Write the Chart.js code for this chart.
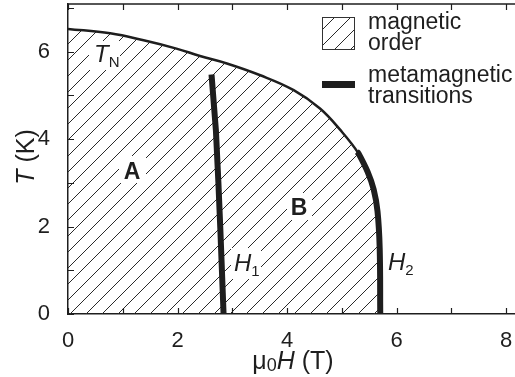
<!DOCTYPE html>
<html>
<head>
<meta charset="utf-8">
<script src="https://cdn.jsdelivr.net/npm/chart.js@4.4.1/dist/chart.umd.min.js"></script>
<style>
  html, body { margin: 0; padding: 0; background: #fff; }
  #wrap { width: 515px; height: 377px; }
</style>
</head>
<body>
<div id="wrap"><canvas id="phaseChart" width="515" height="377"></canvas></div>
<script>
// T_N(H) phase boundary (H in T, T in K)
let boundaryH = [0, 0.77, 1.38, 1.98, 2.41, 2.90, 3.51, 4.12, 4.60, 4.97, 5.30, 5.47, 5.58, 5.65, 5.69, 5.70];
let boundaryT = [6.52, 6.42, 6.26, 6.07, 5.90, 5.73, 5.46, 5.12, 4.70, 4.21, 3.68, 3.25, 2.85, 2.35, 1.50, 0];

// metamagnetic transitions
let h1H = [2.62, 2.70, 2.745, 2.78, 2.84];
let h1T = [5.48, 4.20, 3.02, 1.97, 0];
let h2H = [5.27, 5.30, 5.47, 5.58, 5.65, 5.69, 5.70];
let h2T = [3.71, 3.68, 3.25, 2.85, 2.35, 1.50, 0];

let xTicks = [0, 1, 2, 3, 4, 5, 6, 7, 8];
let xTickLabels = ['0', '', '2', '', '4', '', '6', '', '8'];
let yTicks = [0, 1, 2, 3, 4, 5, 6, 7];
let yTickLabels = ['0', '', '2', '', '4', '', '6', ''];

let ink = '#1e1e1e';
let fam = '"Liberation Sans", Arial, Helvetica, sans-serif';

function pts(xs, ys) {
    return xs.map((x, i) => ({x: x, y: ys[i]}));
}

// diagonal hatch
let tile = document.createElement('canvas');
tile.width = 16;
tile.height = 16;
let tctx = tile.getContext('2d');
tctx.strokeStyle = '#2a2a2a';
tctx.lineWidth = 1;
tctx.beginPath();
tctx.moveTo(-1, 17); tctx.lineTo(17, -1);
tctx.moveTo(-2, 2); tctx.lineTo(2, -2);
tctx.moveTo(14, 18); tctx.lineTo(18, 14);
tctx.stroke();
let hatch = tctx.createPattern(tile, 'repeat');

function runs(ctx, parts, x, y, align) {
    let w = 0;
    parts.forEach(p => { ctx.font = p.font; w += ctx.measureText(p.text).width; });
    let cx = align === 'center' ? x - w / 2 : x;
    ctx.textAlign = 'left';
    ctx.textBaseline = 'alphabetic';
    parts.forEach(p => {
        ctx.font = p.font;
        ctx.fillText(p.text, cx, y + (p.dy || 0));
        cx += ctx.measureText(p.text).width;
    });
}

function fixSize(w, h) {
    return function(s) {
        if (w) s.width = w;
        if (h) s.height = h;
        s.paddingTop = s.paddingBottom = s.paddingLeft = s.paddingRight = 0;
    };
}

let decor = {
    id: 'decor',
    afterDatasetsDraw(chart) {
        let ctx = chart.ctx;
        ctx.save();
        // white boxes behind labels inside the hatch
        ctx.fillStyle = '#fff';
        ctx.fillRect(89, 41, 31, 29);
        ctx.fillRect(119, 156, 27, 27);
        ctx.fillRect(287, 193, 25, 27);
        ctx.fillRect(231, 248, 30, 31);
        ctx.fillStyle = ink;
        let it = 'italic 24px ' + fam;
        let sub = '15px ' + fam;
        runs(ctx, [{text: 'T', font: it}, {text: 'N', font: sub, dy: 5}], 94, 62, 'left');
        runs(ctx, [{text: 'A', font: 'bold 23px ' + fam}], 132, 179, 'center');
        runs(ctx, [{text: 'B', font: 'bold 23px ' + fam}], 299, 215, 'center');
        runs(ctx, [{text: 'H', font: it}, {text: '1', font: sub, dy: 5}], 234, 271, 'left');
        runs(ctx, [{text: 'H', font: it}, {text: '2', font: sub, dy: 5}], 388, 270, 'left');
        ctx.restore();
    },
    afterDraw(chart) {
        let ctx = chart.ctx;
        let a = chart.chartArea;
        let xs = chart.scales.x;
        let ys = chart.scales.y;
        ctx.save();
        ctx.strokeStyle = ink;
        ctx.lineWidth = 1.5;
        // top frame
        ctx.beginPath();
        ctx.moveTo(a.left, a.top);
        ctx.lineTo(a.right, a.top);
        ctx.stroke();
        // inward ticks
        ctx.lineWidth = 1.2;
        ctx.beginPath();
        xTicks.forEach(v => {
            let p = Math.round(xs.getPixelForValue(v)) + 0.5;
            ctx.moveTo(p, a.bottom); ctx.lineTo(p, a.bottom - 6);
            ctx.moveTo(p, a.top); ctx.lineTo(p, a.top + 6);
        });
        yTicks.forEach(v => {
            let p = Math.round(ys.getPixelForValue(v)) + 0.5;
            ctx.moveTo(a.left, p); ctx.lineTo(a.left + 6, p);
        });
        ctx.stroke();

        // legend
        ctx.fillStyle = hatch;
        ctx.fillRect(322, 17, 32, 32);
        ctx.lineWidth = 1;
        ctx.strokeStyle = '#333';
        ctx.strokeRect(322.5, 17.5, 32, 32);
        ctx.fillStyle = ink;
        ctx.fillRect(322, 81, 33, 7);
        ctx.font = '23px ' + fam;
        ctx.textAlign = 'left';
        ctx.textBaseline = 'alphabetic';
        ctx.fillText('magnetic', 368, 29);
        ctx.fillText('order', 368, 50);
        ctx.fillText('metamagnetic', 368, 82);
        ctx.fillText('transitions', 368, 103);

        // axis titles
        let big = '25px ' + fam;
        let bigIt = 'italic 25px ' + fam;
        runs(ctx, [{text: '\u03bc', font: big}, {text: '0', font: '18px ' + fam, dy: 2},
                   {text: 'H', font: bigIt}, {text: ' (T)', font: big}], 293, 369, 'center');
        ctx.translate(34, 157);
        ctx.rotate(-Math.PI / 2);
        runs(ctx, [{text: 'T', font: bigIt}, {text: ' (K)', font: big}], 0, 0, 'center');
        ctx.restore();
    }
};

let config = {
    type: 'line',
    data: {
        datasets: [{
            data: pts(h1H, h1T),
            borderColor: ink,
            borderWidth: 6,
            pointRadius: 0,
            tension: 0,
            fill: false
        }, {
            data: pts(h2H, h2T),
            borderColor: ink,
            borderWidth: 6,
            pointRadius: 0,
            tension: 0.4,
            fill: false
        }, {
            data: pts(boundaryH, boundaryT),
            borderColor: ink,
            borderWidth: 2.5,
            pointRadius: 0,
            tension: 0.4,
            fill: 'origin',
            backgroundColor: hatch
        }]
    },
    options: {
        responsive: false,
        animation: false,
        devicePixelRatio: 1,
        layout: { padding: { top: 4, left: 0, right: 0, bottom: 0 } },
        plugins: { legend: { display: false }, tooltip: { enabled: false } },
        scales: {
            x: {
                type: 'linear',
                min: 0,
                max: 8.16,
                afterBuildTicks: s => { s.ticks = xTicks.map(v => ({value: v})); },
                afterFit: fixSize(0, 63),
                grid: { display: false },
                border: { display: true, color: ink, width: 1.5 },
                ticks: {
                    autoSkip: false,
                    maxRotation: 0,
                    padding: 6,
                    color: ink,
                    font: { family: fam, size: 22 },
                    callback: v => xTickLabels[xTicks.indexOf(v)]
                }
            },
            y: {
                type: 'linear',
                min: 0,
                max: 7.09,
                afterBuildTicks: s => { s.ticks = yTicks.map(v => ({value: v})); },
                afterFit: fixSize(68, 0),
                grid: { display: false },
                border: { display: true, color: ink, width: 1.5 },
                ticks: {
                    autoSkip: false,
                    padding: 10,
                    color: ink,
                    font: { family: fam, size: 22 },
                    callback: v => yTickLabels[yTicks.indexOf(v)]
                }
            }
        }
    },
    plugins: [decor]
};

window.onload = function() {
    let ctx = document.getElementById('phaseChart').getContext('2d');
    window.phaseChart = new Chart(ctx, config);
};
</script>
</body>
</html>
